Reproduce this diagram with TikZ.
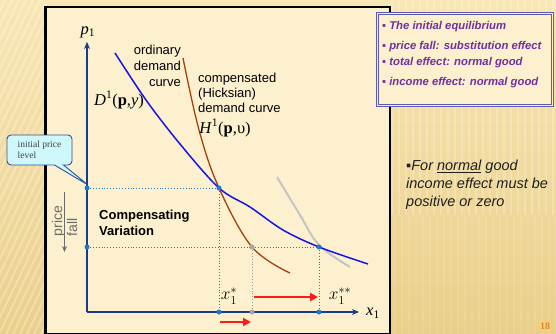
\documentclass[tikz,border=0pt]{standalone}
\usepackage{fontspec}
\setmainfont{Liberation Serif}
\newfontfamily\arial{Liberation Sans}
\usetikzlibrary{arrows.meta,shapes.callouts}
\definecolor{bgtop}{HTML}{F8E6B4}
\definecolor{bgbot}{HTML}{EACF8A}
\definecolor{panelfill}{HTML}{FCF0CE}
\definecolor{navy}{HTML}{1B3A8C}
\definecolor{dotblue}{HTML}{1F7BC8}
\definecolor{demblue}{HTML}{1515E8}
\definecolor{hbrown}{HTML}{A3420F}
\definecolor{lgray}{HTML}{C4C4C4}
\definecolor{redarr}{HTML}{FF1A1A}
\definecolor{purp}{HTML}{7030A0}
\definecolor{legborder}{HTML}{5B5BB5}
\definecolor{calfill}{HTML}{CFF8FC}
\definecolor{calborder}{HTML}{2F4FA0}
\definecolor{pgorange}{HTML}{E08A1E}
\begin{document}
\begin{tikzpicture}[x=1pt,y=-1pt,
  axis/.style={navy,line width=1.4pt,-{Stealth[length=7pt,width=6pt]}},
  guide/.style={dotblue,dotted,line width=0.9pt},
  gguide/.style={gray!80,dotted,line width=0.9pt},
  bdot/.style={circle,fill=dotblue,inner sep=0pt,minimum size=5pt},
  gdot/.style={circle,fill=gray!70,inner sep=0pt,minimum size=5pt},
  redarrow/.style={redarr,line width=2.6pt,-{Triangle[length=8pt,width=8pt]}},
  sanslbl/.style={font=\arial\fontsize{13}{16}\selectfont,inner sep=0pt},
  mathlbl/.style={font=\fontsize{16.5}{19}\selectfont,inner sep=0pt},
  legtxt/.style={font=\arial\bfseries\itshape\fontsize{11.3}{13}\selectfont,text=purp,anchor=west,inner sep=0pt}]
\useasboundingbox (0,0) rectangle (556,334);
% background
\shade[top color=bgtop,bottom color=bgbot] (0,0) rectangle (556,334);
\begin{scope}
\clip (0,0) rectangle (46,334);
\foreach \i in {-400,-393,...,60}
  \draw[white,opacity=0.28,line width=2pt] (\i,334) -- (\i+160,0);
\end{scope}
\begin{scope}
\clip (390,0) rectangle (556,334);
\foreach \i in {392,399,...,556}
  \draw[white,opacity=0.22,line width=2.2pt] (\i,0) -- (\i,215);
\foreach \i in {395,402,...,556}
  \draw[white,opacity=0.10,line width=2.2pt] (\i,215) -- (\i,334);
\end{scope}
% panel
\draw[black,line width=2.2pt,fill=panelfill] (45.5,7) rectangle (390,334);
% key points
\coordinate (o) at (87,312);
\coordinate (ytop) at (87,42);
\coordinate (xend) at (359,312);
\coordinate (e1) at (219,188);
\coordinate (e2) at (252,247);
\coordinate (e3) at (319,247);
\coordinate (py0) at (87,188);
\coordinate (py1) at (87,247);
\coordinate (ax1) at (219,312);
\coordinate (ax2) at (252,312);
\coordinate (ax3) at (319,312);
% guides
\draw[guide] (py0) -- (e1);
\draw[guide] (e1) -- (ax1);
\draw[guide] (py1) -- (e3);
\draw[gguide] (e2) -- (ax2);
\draw[guide] (e3) -- (ax3);
% curves
\draw[lgray,line width=2pt] plot[smooth,tension=0.6] coordinates {(277,177) (300,215) (319,245) (350,267)};
\draw[hbrown,line width=1.3pt] plot[smooth,tension=0.6] coordinates {(183,58) (199,130) (219,188) (252,247) (290,273)};
\draw[demblue,line width=1.5pt] plot[smooth,tension=0.55] coordinates {(115,53) (146,100) (180,144) (219,188) (250,207) (283,230) (319,247) (368,264)};
% axes
\draw[axis] (o) -- (ytop);
\draw[axis] (o) -- (xend);
% dots
\node[bdot] (d1) at (py0) {};
\node[bdot] (d2) at (e1) {};
\node[bdot] (d3) at (py1) {};
\node[bdot] (d4) at (ax1) {};
\node[bdot] (d5) at (e3) {};
\node[bdot] (d6) at (ax3) {};
\node[gdot] (d7) at (e2) {};
\node[gdot] (d8) at (ax2) {};
% red arrows
\coordinate (r1a) at (254,297);
\coordinate (r1b) at (318,297);
\coordinate (r2a) at (220,322);
\coordinate (r2b) at (251,322);
\draw[redarrow] (r1a) -- (r1b);
\draw[redarrow] (r2a) -- (r2b);
% price fall arrow
\coordinate (pfa) at (64.5,192);
\coordinate (pfb) at (64.5,252);
\draw[gray!85!black,line width=1.5pt,-{Stealth[length=6pt,width=5pt]}] (pfa) -- (pfb);
\node[font=\arial\fontsize{14}{15}\selectfont,text=gray!85!black,rotate=90,align=left,inner sep=0pt] (pf) at (64.5,221) {price\\fall};
% labels
\node[mathlbl,font=\itshape\fontsize{16.5}{19}\selectfont] (pl) at (88,32) {p\textsubscript{\upshape 1}};
\node[mathlbl] (xl) at (373,313) {\textit{x}\textsubscript{1}};
\node[mathlbl] (xs) at (229,296) {$x_1^*$};
\node[mathlbl] (xss) at (340,296) {$x_1^{**}$};
\node[sanslbl,align=right,anchor=east] (ord) at (181,66) {ordinary\\demand\\curve};
\node[sanslbl,align=left,anchor=west,font=\arial\fontsize{13}{15}\selectfont] (comp) at (198,93) {compensated\\(Hicksian)\\demand curve};
\node[mathlbl] (hl) at (225,128) {\textit{H}\textsuperscript{1}(\textbf{p},υ)};
\node[mathlbl] (dl) at (119,100) {\textit{D}\textsuperscript{1}(\textbf{p},\textit{y})};
\node[sanslbl,font=\arial\bfseries\fontsize{13}{16}\selectfont,align=left,anchor=west] (cv) at (99,223) {Compensating\\Variation};
% callout
\node[rectangle callout,rounded corners=4pt,fill=calfill,draw=calborder,line width=0.9pt,
  minimum width=65pt,minimum height=30pt,inner sep=2pt,align=left,
  callout absolute pointer={(88,185)},callout pointer width=9pt,
  font=\fontsize{9.5}{11}\selectfont,text=black!75] (cb) at (39.5,150) {initial price\\level};
% legend
\draw[legborder,double=panelfill,double distance=1.2pt,line width=0.5pt,fill=panelfill] (377.5,13.5) rectangle (552.5,105.5);
\node[legtxt] (lg1) at (382,27) {▪ The initial equilibrium};
\node[legtxt] (lg2) at (382,47) {▪ price fall: substitution effect};
\node[legtxt] (lg3) at (382,63) {▪ total effect: normal good};
\node[legtxt] (lg4) at (382,83) {▪ income effect: normal good};
% right text
\node[font=\arial\itshape\fontsize{14.5}{18}\selectfont,text=black!88,align=left,anchor=west,inner sep=0pt] (rt) at (406,185) {▪For \underline{normal} good\\income effect must be\\positive or zero};
\node[font=\bfseries\fontsize{10}{12}\selectfont,text=pgorange,inner sep=0pt] (pg) at (545,326) {18};
\end{tikzpicture}
\end{document}
